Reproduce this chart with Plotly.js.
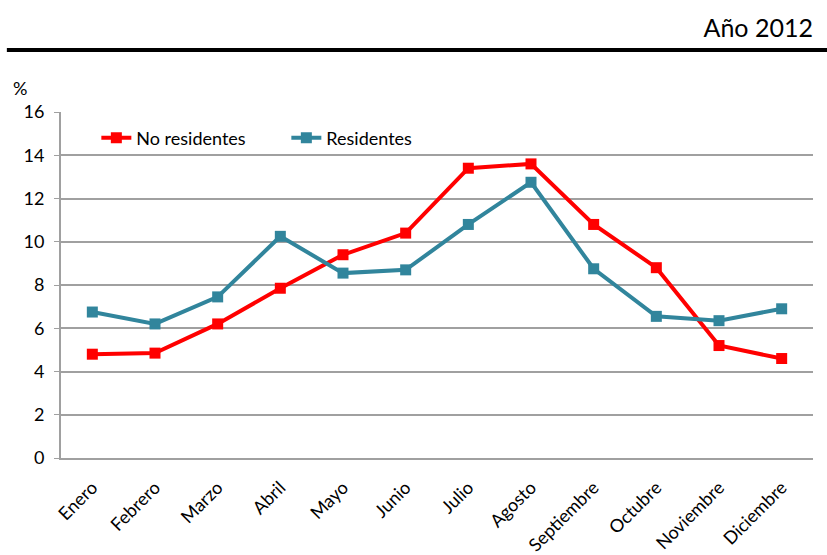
<!DOCTYPE html>
<html>
<head>
<meta charset="utf-8">
<script src="https://cdn.plot.ly/plotly-3.0.1.min.js"></script>
<style>
  body { margin: 0; background: #fff; }
  #myDiv { width: 827px; height: 555px; }
</style>
</head>
<body>
<div id="myDiv"></div>
<script>
// meses del año
let meses = ['Enero', 'Febrero', 'Marzo', 'Abril', 'Mayo', 'Junio', 'Julio', 'Agosto',
             'Septiembre', 'Octubre', 'Noviembre', 'Diciembre'];

// % por mes
let noResidentes = [4.8, 4.85, 6.2, 7.85, 9.4, 10.4, 13.4, 13.6, 10.8, 8.8, 5.2, 4.6];
let residentes = [6.75, 6.2, 7.45, 10.25, 8.55, 8.7, 10.8, 12.75, 8.75, 6.55, 6.35, 6.9];

let yTicks = [0, 2, 4, 6, 8, 10, 12, 14, 16];

let fuente = 'Lato, "Liberation Sans", sans-serif';
let rojo = '#ff0000';
let azul = '#31859c';

let trazas = [
    {
        name: 'No residentes',
        x: meses,
        y: noResidentes,
        mode: 'lines+markers',
        type: 'scatter',
        line: {color: rojo, width: 4},
        marker: {color: rojo, symbol: 'square', size: 11}
    },
    {
        name: 'Residentes',
        x: meses,
        y: residentes,
        mode: 'lines+markers',
        type: 'scatter',
        line: {color: azul, width: 4},
        marker: {color: azul, symbol: 'square', size: 11}
    }
];

let layout = {
    width: 827,
    height: 555,
    margin: {l: 61, r: 14, t: 112, b: 96.5},
    paper_bgcolor: '#fff',
    plot_bgcolor: '#fff',
    font: {family: fuente, size: 18, color: '#000'},
    showlegend: true,
    title: {
        text: 'Año 2012',
        x: 0.983,
        xanchor: 'right',
        y: 0.95,
        yanchor: 'middle',
        font: {family: fuente, size: 25, color: '#000'}
    },
    legend: {
        orientation: 'h',
        x: 0.047,
        y: 0.925,
        xanchor: 'left',
        yanchor: 'middle',
        bgcolor: 'rgba(0,0,0,0)',
        font: {family: fuente, size: 18},
        entrywidth: 145,
        traceorder: 'normal'
    },
    xaxis: {
        type: 'category',
        range: [-0.5, 11.5],
        tickangle: -45,
        showgrid: false,
        showline: true,
        linecolor: '#a0a0a0',
        linewidth: 2,
        ticks: '',
        ticklabelstandoff: 10,
        tickfont: {family: fuente, size: 18},
        fixedrange: true
    },
    yaxis: {
        range: [0, 16],
        tickvals: yTicks,
        showgrid: true,
        gridcolor: '#a0a0a0',
        gridwidth: 2,
        showline: true,
        linecolor: '#a0a0a0',
        linewidth: 2,
        ticks: 'outside',
        ticklen: 5,
        tickcolor: '#a0a0a0',
        zeroline: false,
        ticklabelstandoff: 6,
        tickfont: {family: fuente, size: 18},
        fixedrange: true
    },
    shapes: [
        {
            type: 'line',
            xref: 'paper', yref: 'paper',
            x0: -0.072, x1: 1.02,
            y0: 1.179, y1: 1.179,
            line: {color: '#000', width: 4}
        }
    ],
    annotations: [
        {
            text: '%',
            xref: 'paper', yref: 'paper',
            x: -0.055, y: 1.069,
            xanchor: 'center', yanchor: 'middle',
            showarrow: false,
            font: {family: fuente, size: 18, color: '#000'}
        }
    ]
};

Plotly.newPlot('myDiv', trazas, layout, {displayModeBar: false, staticPlot: true});
</script>
</body>
</html>
